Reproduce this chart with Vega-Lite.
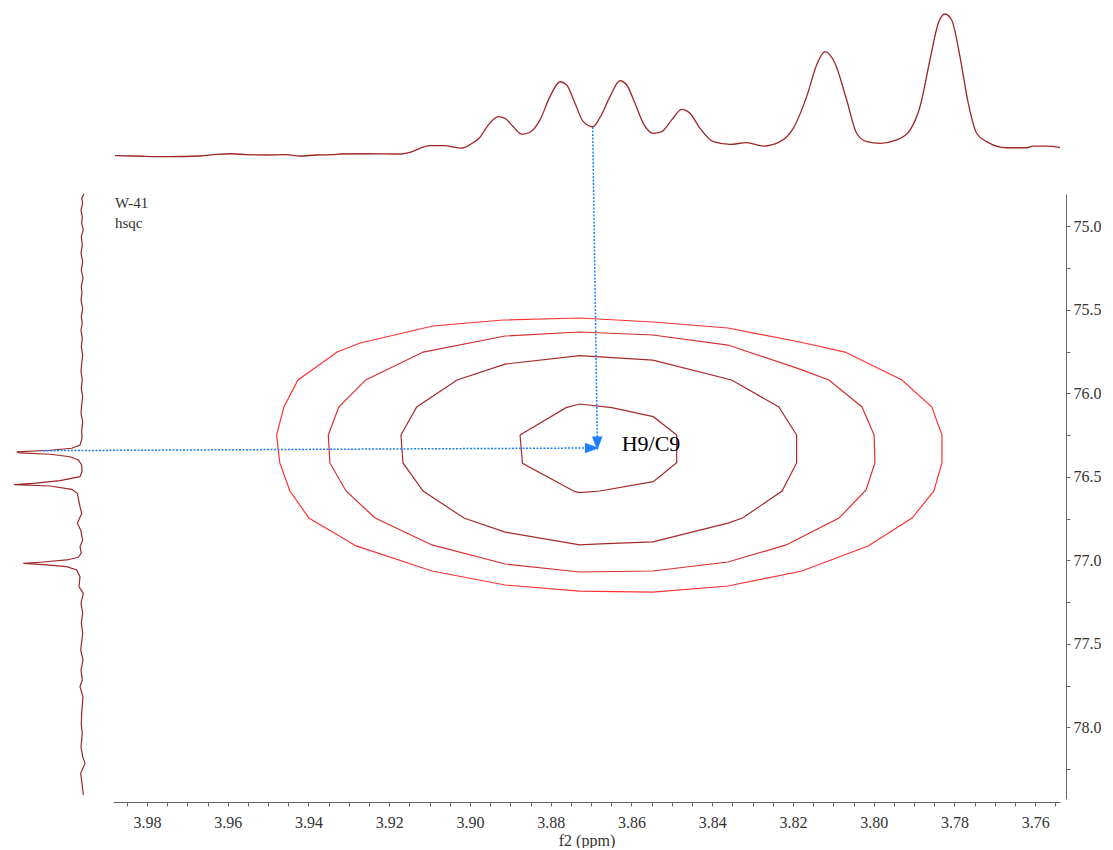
{
  "$schema": "https://vega.github.io/schema/vega-lite/v6.json",
  "padding": 0,
  "spacing": 0,
  "columns": 2,
  "bounds": "flush",
  "background": "white",
  "config": {
    "view": {"stroke": null},
    "font": "Liberation Serif"
  },
  "concat": [
    {
      "width": 113,
      "height": 194,
      "data": {"values": []},
      "mark": {"type": "point", "opacity": 0},
      "encoding": {}
    },
    {
      "width": 947,
      "height": 194,
      "data": {"values": [
        {"f2": 3.98793, "i": 0.2}, {"f2": 3.98339, "i": 0.0}, {"f2": 3.97512, "i": -0.5}, {"f2": 3.96687, "i": 0.0},
        {"f2": 3.96274, "i": 1.2}, {"f2": 3.95902, "i": 1.6}, {"f2": 3.95531, "i": 0.9}, {"f2": 3.95035, "i": 0.7},
        {"f2": 3.94540, "i": 0.9}, {"f2": 3.94211, "i": 0.0}, {"f2": 3.93797, "i": 0.7}, {"f2": 3.93386, "i": 0.9},
        {"f2": 3.93220, "i": 1.4}, {"f2": 3.92559, "i": 1.6}, {"f2": 3.91734, "i": 1.4}, {"f2": 3.91528, "i": 2.3},
        {"f2": 3.90991, "i": 7.3}, {"f2": 3.90661, "i": 7.3}, {"f2": 3.90206, "i": 5.6}, {"f2": 3.90000, "i": 8.0},
        {"f2": 3.89752, "i": 13.2}, {"f2": 3.89547, "i": 21.8}, {"f2": 3.89299, "i": 27.7}, {"f2": 3.89133, "i": 26.5},
        {"f2": 3.88928, "i": 20.6}, {"f2": 3.88719, "i": 15.3}, {"f2": 3.88514, "i": 16.7}, {"f2": 3.88266, "i": 25.4},
        {"f2": 3.88019, "i": 41.8}, {"f2": 3.87771, "i": 52.3}, {"f2": 3.87605, "i": 50.0}, {"f2": 3.87399, "i": 37.1},
        {"f2": 3.87194, "i": 24.2}, {"f2": 3.86961, "i": 20.6}, {"f2": 3.86780, "i": 27.1}, {"f2": 3.86532, "i": 41.8},
        {"f2": 3.86285, "i": 53.0}, {"f2": 3.86119, "i": 50.0}, {"f2": 3.85913, "i": 37.1}, {"f2": 3.85708, "i": 23.0},
        {"f2": 3.85460, "i": 16.0}, {"f2": 3.85252, "i": 17.1}, {"f2": 3.85004, "i": 25.4}, {"f2": 3.84757, "i": 32.9},
        {"f2": 3.84551, "i": 30.1}, {"f2": 3.84303, "i": 19.5}, {"f2": 3.83974, "i": 10.1}, {"f2": 3.83560, "i": 8.2},
        {"f2": 3.83147, "i": 9.4}, {"f2": 3.82736, "i": 7.0}, {"f2": 3.82322, "i": 10.1}, {"f2": 3.81993, "i": 19.5},
        {"f2": 3.81661, "i": 41.8}, {"f2": 3.81413, "i": 64.1}, {"f2": 3.81207, "i": 73.5}, {"f2": 3.80960, "i": 65.3},
        {"f2": 3.80670, "i": 39.4}, {"f2": 3.80422, "i": 16.0}, {"f2": 3.80174, "i": 10.1}, {"f2": 3.79845, "i": 8.9},
        {"f2": 3.79431, "i": 11.3}, {"f2": 3.79102, "i": 18.3}, {"f2": 3.78854, "i": 34.7}, {"f2": 3.78607, "i": 67.6},
        {"f2": 3.78401, "i": 93.5}, {"f2": 3.78235, "i": 100.0}, {"f2": 3.78069, "i": 95.8}, {"f2": 3.77864, "i": 69.9},
        {"f2": 3.77658, "i": 37.1}, {"f2": 3.77450, "i": 16.0}, {"f2": 3.77202, "i": 10.1}, {"f2": 3.76707, "i": 5.8},
        {"f2": 3.76212, "i": 5.8}, {"f2": 3.76048, "i": 7.0}, {"f2": 3.75716, "i": 7.0}, {"f2": 3.75387, "i": 6.1}
      ]},
      "mark": {"type": "line", "color": "#9E2626", "strokeWidth": 1.3, "interpolate": "monotone"},
      "encoding": {
        "x": {"field": "f2", "type": "quantitative", "scale": {"domain": [3.75386, 3.98842], "reverse": true, "zero": false, "nice": false}, "axis": null},
        "y": {"field": "i", "type": "quantitative", "scale": {"domain": [-26.76, 109.86], "zero": false, "nice": false}, "axis": null},
        "order": {"field": "f2", "sort": "descending"}
      }
    },
    {
      "width": 113,
      "height": 605,
      "data": {"values": [
        {"f1": 74.805, "a": -2}, {"f1": 74.832, "a": 0.3}, {"f1": 74.862, "a": -0.7}, {"f1": 74.902, "a": 1},
        {"f1": 74.943, "a": -0.3}, {"f1": 74.982, "a": 0.3}, {"f1": 75.022, "a": -1.3}, {"f1": 75.062, "a": 0.7},
        {"f1": 75.112, "a": -0.3}, {"f1": 75.162, "a": 1}, {"f1": 75.212, "a": -0.7}, {"f1": 75.262, "a": 0.7},
        {"f1": 75.311, "a": -1}, {"f1": 75.362, "a": 0.7}, {"f1": 75.401, "a": 0}, {"f1": 75.441, "a": 1},
        {"f1": 75.491, "a": -0.7}, {"f1": 75.541, "a": 0.7}, {"f1": 75.581, "a": -0.3}, {"f1": 75.621, "a": 1},
        {"f1": 75.671, "a": -0.3}, {"f1": 75.721, "a": 0.7}, {"f1": 75.771, "a": -0.7}, {"f1": 75.820, "a": 0.3},
        {"f1": 75.871, "a": 1}, {"f1": 75.920, "a": -0.3}, {"f1": 75.970, "a": 0.7}, {"f1": 76.020, "a": -0.7},
        {"f1": 76.070, "a": 0.3}, {"f1": 76.120, "a": 1}, {"f1": 76.170, "a": -0.7}, {"f1": 76.220, "a": 0.3},
        {"f1": 76.269, "a": 0}, {"f1": 76.310, "a": 2}, {"f1": 76.329, "a": 10.3}, {"f1": 76.341, "a": 32},
        {"f1": 76.351, "a": 65.3}, {"f1": 76.357, "a": 62}, {"f1": 76.365, "a": 32}, {"f1": 76.380, "a": 12},
        {"f1": 76.399, "a": 3.7}, {"f1": 76.429, "a": 0.3}, {"f1": 76.469, "a": 0}, {"f1": 76.499, "a": 2},
        {"f1": 76.523, "a": 22}, {"f1": 76.539, "a": 48.7}, {"f1": 76.547, "a": 68}, {"f1": 76.555, "a": 32},
        {"f1": 76.575, "a": 10.3}, {"f1": 76.599, "a": 4.7}, {"f1": 76.629, "a": 3.7}, {"f1": 76.679, "a": 2},
        {"f1": 76.719, "a": 0.3}, {"f1": 76.778, "a": 4.7}, {"f1": 76.819, "a": 1.3}, {"f1": 76.878, "a": -0.7},
        {"f1": 76.919, "a": 2}, {"f1": 76.955, "a": 0.7}, {"f1": 76.982, "a": 3.7}, {"f1": 76.998, "a": 15.3},
        {"f1": 77.010, "a": 38.7}, {"f1": 77.018, "a": 58.7}, {"f1": 77.026, "a": 38.7}, {"f1": 77.038, "a": 15.3},
        {"f1": 77.058, "a": 5.3}, {"f1": 77.098, "a": 2}, {"f1": 77.158, "a": 3}, {"f1": 77.198, "a": -1.3},
        {"f1": 77.257, "a": 1}, {"f1": 77.317, "a": -0.7}, {"f1": 77.377, "a": 0.7}, {"f1": 77.437, "a": -0.7},
        {"f1": 77.537, "a": 1.3}, {"f1": 77.597, "a": -1}, {"f1": 77.657, "a": 1}, {"f1": 77.717, "a": -0.3},
        {"f1": 77.757, "a": 2}, {"f1": 77.817, "a": -1}, {"f1": 77.916, "a": 0.3}, {"f1": 77.986, "a": 0.7},
        {"f1": 78.036, "a": -0.3}, {"f1": 78.116, "a": 1}, {"f1": 78.176, "a": -0.7}, {"f1": 78.216, "a": -3},
        {"f1": 78.275, "a": 1.3}, {"f1": 78.335, "a": 0}, {"f1": 78.405, "a": -1.3}
      ]},
      "mark": {"type": "line", "color": "#9E2626", "strokeWidth": 1.2},
      "encoding": {
        "x": {"field": "a", "type": "quantitative", "scale": {"domain": [-31, 82], "reverse": true, "zero": false, "nice": false}, "axis": null},
        "y": {"field": "f1", "type": "quantitative", "scale": {"domain": [74.8066, 78.4293], "reverse": true, "zero": false, "nice": false}, "axis": null},
        "order": {"field": "f1"}
      }
    },
    {
      "width": 947,
      "height": 605,
      "resolve": {"axis": {"x": "independent"}},
      "layer": [
        {
          "data": {"values": [
            {"lv": 1, "k": 1, "f2": 3.9479, "f1": 76.250}, {"lv": 1, "k": 2, "f2": 3.9461, "f1": 76.082},
            {"lv": 1, "k": 3, "f2": 3.9426, "f1": 75.920}, {"lv": 1, "k": 4, "f2": 3.9329, "f1": 75.753},
            {"lv": 1, "k": 5, "f2": 3.9272, "f1": 75.699}, {"lv": 1, "k": 6, "f2": 3.9092, "f1": 75.597},
            {"lv": 1, "k": 7, "f2": 3.8918, "f1": 75.561}, {"lv": 1, "k": 8, "f2": 3.8728, "f1": 75.549},
            {"lv": 1, "k": 9, "f2": 3.8547, "f1": 75.573}, {"lv": 1, "k": 10, "f2": 3.8361, "f1": 75.609},
            {"lv": 1, "k": 11, "f2": 3.8183, "f1": 75.693}, {"lv": 1, "k": 12, "f2": 3.8071, "f1": 75.753},
            {"lv": 1, "k": 13, "f2": 3.7930, "f1": 75.920}, {"lv": 1, "k": 14, "f2": 3.7856, "f1": 76.082},
            {"lv": 1, "k": 15, "f2": 3.7831, "f1": 76.250}, {"lv": 1, "k": 16, "f2": 3.7831, "f1": 76.417},
            {"lv": 1, "k": 17, "f2": 3.7851, "f1": 76.585}, {"lv": 1, "k": 18, "f2": 3.7905, "f1": 76.747},
            {"lv": 1, "k": 19, "f2": 3.8014, "f1": 76.914}, {"lv": 1, "k": 20, "f2": 3.8178, "f1": 77.064},
            {"lv": 1, "k": 21, "f2": 3.8361, "f1": 77.154}, {"lv": 1, "k": 22, "f2": 3.8547, "f1": 77.190},
            {"lv": 1, "k": 23, "f2": 3.8728, "f1": 77.184}, {"lv": 1, "k": 24, "f2": 3.8913, "f1": 77.148},
            {"lv": 1, "k": 25, "f2": 3.9094, "f1": 77.064}, {"lv": 1, "k": 26, "f2": 3.9282, "f1": 76.914},
            {"lv": 1, "k": 27, "f2": 3.9399, "f1": 76.747}, {"lv": 1, "k": 28, "f2": 3.9446, "f1": 76.585},
            {"lv": 1, "k": 29, "f2": 3.9471, "f1": 76.417}, {"lv": 1, "k": 30, "f2": 3.9479, "f1": 76.250},

            {"lv": 2, "k": 1, "f2": 3.9351, "f1": 76.250}, {"lv": 2, "k": 2, "f2": 3.9325, "f1": 76.082},
            {"lv": 2, "k": 3, "f2": 3.9258, "f1": 75.920}, {"lv": 2, "k": 4, "f2": 3.9116, "f1": 75.753},
            {"lv": 2, "k": 5, "f2": 3.8913, "f1": 75.657}, {"lv": 2, "k": 6, "f2": 3.8728, "f1": 75.633},
            {"lv": 2, "k": 7, "f2": 3.8547, "f1": 75.651}, {"lv": 2, "k": 8, "f2": 3.8361, "f1": 75.711},
            {"lv": 2, "k": 9, "f2": 3.8183, "f1": 75.855}, {"lv": 2, "k": 10, "f2": 3.8111, "f1": 75.920},
            {"lv": 2, "k": 11, "f2": 3.8029, "f1": 76.082}, {"lv": 2, "k": 12, "f2": 3.7999, "f1": 76.250},
            {"lv": 2, "k": 13, "f2": 3.7997, "f1": 76.417}, {"lv": 2, "k": 14, "f2": 3.8019, "f1": 76.579},
            {"lv": 2, "k": 15, "f2": 3.8086, "f1": 76.747}, {"lv": 2, "k": 16, "f2": 3.8217, "f1": 76.908},
            {"lv": 2, "k": 17, "f2": 3.8361, "f1": 77.010}, {"lv": 2, "k": 18, "f2": 3.8547, "f1": 77.064},
            {"lv": 2, "k": 19, "f2": 3.8728, "f1": 77.070}, {"lv": 2, "k": 20, "f2": 3.8913, "f1": 77.022},
            {"lv": 2, "k": 21, "f2": 3.9094, "f1": 76.908}, {"lv": 2, "k": 22, "f2": 3.9235, "f1": 76.747},
            {"lv": 2, "k": 23, "f2": 3.9307, "f1": 76.585}, {"lv": 2, "k": 24, "f2": 3.9347, "f1": 76.417},
            {"lv": 2, "k": 25, "f2": 3.9351, "f1": 76.250},

            {"lv": 3, "k": 1, "f2": 3.9171, "f1": 76.250}, {"lv": 3, "k": 2, "f2": 3.9132, "f1": 76.082},
            {"lv": 3, "k": 3, "f2": 3.9032, "f1": 75.920}, {"lv": 3, "k": 4, "f2": 3.8913, "f1": 75.825},
            {"lv": 3, "k": 5, "f2": 3.8728, "f1": 75.774}, {"lv": 3, "k": 6, "f2": 3.8547, "f1": 75.801},
            {"lv": 3, "k": 7, "f2": 3.8352, "f1": 75.920}, {"lv": 3, "k": 8, "f2": 3.8235, "f1": 76.082},
            {"lv": 3, "k": 9, "f2": 3.8191, "f1": 76.250}, {"lv": 3, "k": 10, "f2": 3.8191, "f1": 76.417},
            {"lv": 3, "k": 11, "f2": 3.8227, "f1": 76.585}, {"lv": 3, "k": 12, "f2": 3.8325, "f1": 76.747},
            {"lv": 3, "k": 13, "f2": 3.8361, "f1": 76.777}, {"lv": 3, "k": 14, "f2": 3.8547, "f1": 76.890},
            {"lv": 3, "k": 15, "f2": 3.8678, "f1": 76.902}, {"lv": 3, "k": 16, "f2": 3.8728, "f1": 76.908},
            {"lv": 3, "k": 17, "f2": 3.8913, "f1": 76.831}, {"lv": 3, "k": 18, "f2": 3.9015, "f1": 76.747},
            {"lv": 3, "k": 19, "f2": 3.9116, "f1": 76.585}, {"lv": 3, "k": 20, "f2": 3.9166, "f1": 76.417},
            {"lv": 3, "k": 21, "f2": 3.9171, "f1": 76.250},

            {"lv": 4, "k": 1, "f2": 3.8876, "f1": 76.250}, {"lv": 4, "k": 2, "f2": 3.8762, "f1": 76.086},
            {"lv": 4, "k": 3, "f2": 3.8728, "f1": 76.064}, {"lv": 4, "k": 4, "f2": 3.8649, "f1": 76.086},
            {"lv": 4, "k": 5, "f2": 3.8546, "f1": 76.140}, {"lv": 4, "k": 6, "f2": 3.8488, "f1": 76.250},
            {"lv": 4, "k": 7, "f2": 3.8488, "f1": 76.416}, {"lv": 4, "k": 8, "f2": 3.8546, "f1": 76.529},
            {"lv": 4, "k": 9, "f2": 3.8678, "f1": 76.585}, {"lv": 4, "k": 10, "f2": 3.8728, "f1": 76.595},
            {"lv": 4, "k": 11, "f2": 3.8740, "f1": 76.589}, {"lv": 4, "k": 12, "f2": 3.8870, "f1": 76.419},
            {"lv": 4, "k": 13, "f2": 3.8876, "f1": 76.250}
          ]},
          "mark": {"type": "line", "strokeWidth": 1.2},
          "encoding": {
            "x": {
              "field": "f2", "type": "quantitative",
              "scale": {"domain": [3.75386, 3.98842], "reverse": true, "zero": false, "nice": false},
              "axis": {
                "orient": "bottom",
                "values": [3.76, 3.78, 3.8, 3.82, 3.84, 3.86, 3.88, 3.9, 3.92, 3.94, 3.96, 3.98],
                "format": ".2f",
                "title": "f2 (ppm)",
                "titleFont": "Liberation Serif",
                "titleFontSize": 16,
                "titleFontWeight": "normal",
                "titleColor": "#333333",
                "titlePadding": 2,
                "labelFont": "Liberation Serif",
                "labelFontSize": 16,
                "labelColor": "#333333",
                "labelPadding": 8,
                "labelOverlap": false,
                "labelFlush": false,
                "domainColor": "#666666",
                "tickColor": "#666666",
                "tickSize": 4,
                "grid": false,
                "offset": 3
              }
            },
            "y": {
              "field": "f1", "type": "quantitative",
              "scale": {"domain": [74.8066, 78.4293], "reverse": true, "zero": false, "nice": false},
              "axis": {
                "orient": "right",
                "values": [75.0, 75.25, 75.5, 75.75, 76.0, 76.25, 76.5, 76.75, 77.0, 77.25, 77.5, 77.75, 78.0, 78.25],
                "labelExpr": "abs(datum.value * 2 - round(datum.value * 2)) < 0.000001 ? format(datum.value, '.1f') : ''",
                "title": null,
                "labelFont": "Liberation Serif",
                "labelFontSize": 16,
                "labelColor": "#333333",
                "labelPadding": 3,
                "labelOverlap": false,
                "domainColor": "#666666",
                "tickColor": "#666666",
                "tickSize": 4,
                "grid": false,
                "offset": 6
              }
            },
            "color": {"field": "lv", "type": "nominal", "scale": {"domain": [1, 2, 3, 4], "range": ["#FF3333", "#D43030", "#A52A2A", "#A52A2A"]}, "legend": null},
            "order": {"field": "k"}
          }
        },
        {
          "data": {"values": [{"f2": 3.87}]},
          "mark": {"type": "point", "opacity": 0},
          "encoding": {
            "x": {
              "field": "f2", "type": "quantitative",
              "axis": {
                "orient": "bottom",
                "values": [3.755, 3.765, 3.77, 3.775, 3.785, 3.79, 3.795, 3.805, 3.81, 3.815, 3.825, 3.83, 3.835, 3.845, 3.85, 3.855, 3.865, 3.87, 3.875, 3.885, 3.89, 3.895, 3.905, 3.91, 3.915, 3.925, 3.93, 3.935, 3.945, 3.95, 3.955, 3.965, 3.97, 3.975, 3.985],
                "labels": false,
                "domain": false,
                "title": null,
                "tickColor": "#666666",
                "tickSize": 4,
                "grid": false,
                "offset": 3
              }
            }
          }
        },
        {
          "data": {"values": [
            {"x1": 3.86961, "y1": 74.4054, "x2": 3.86847, "y2": 76.2796},
            {"x1": 4.00576, "y1": 76.3437, "x2": 3.87028, "y2": 76.3275}
          ]},
          "mark": {"type": "rule", "color": "#1E80FF", "strokeWidth": 1.5, "strokeDash": [2, 1.5]},
          "encoding": {
            "x": {"field": "x1", "type": "quantitative", "axis": null},
            "y": {"field": "y1", "type": "quantitative"},
            "x2": {"field": "x2"},
            "y2": {"field": "y2"}
          }
        },
        {
          "data": {"values": [{"f2": 3.86847, "f1": 76.3006}]},
          "mark": {"type": "point", "shape": "M-0.75,-1L0.75,-1L0,1Z", "size": 196, "filled": true, "opacity": 1, "color": "#1E80FF"},
          "encoding": {
            "x": {"field": "f2", "type": "quantitative", "axis": null},
            "y": {"field": "f1", "type": "quantitative"}
          }
        },
        {
          "data": {"values": [{"f2": 3.86977, "f1": 76.3275}]},
          "mark": {"type": "point", "shape": "M-1,-0.75L1,0L-1,0.75Z", "size": 196, "filled": true, "opacity": 1, "color": "#1E80FF"},
          "encoding": {
            "x": {"field": "f2", "type": "quantitative", "axis": null},
            "y": {"field": "f1", "type": "quantitative"}
          }
        },
        {
          "data": {"values": [
            {"f2": 3.98793, "f1": 74.8605, "t": "W-41"},
            {"f2": 3.98793, "f1": 74.9802, "t": "hsqc"}
          ]},
          "mark": {"type": "text", "align": "left", "baseline": "middle", "font": "Liberation Serif", "fontSize": 15, "color": "#333333"},
          "encoding": {
            "x": {"field": "f2", "type": "quantitative", "axis": null},
            "y": {"field": "f1", "type": "quantitative"},
            "text": {"field": "t"}
          }
        },
        {
          "data": {"values": [{"f2": 3.86243, "f1": 76.3036, "t": "H9/C9"}]},
          "mark": {"type": "text", "align": "left", "baseline": "middle", "font": "Liberation Serif", "fontSize": 22, "color": "#000000"},
          "encoding": {
            "x": {"field": "f2", "type": "quantitative", "axis": null},
            "y": {"field": "f1", "type": "quantitative"},
            "text": {"field": "t"}
          }
        }
      ]
    }
  ]
}
